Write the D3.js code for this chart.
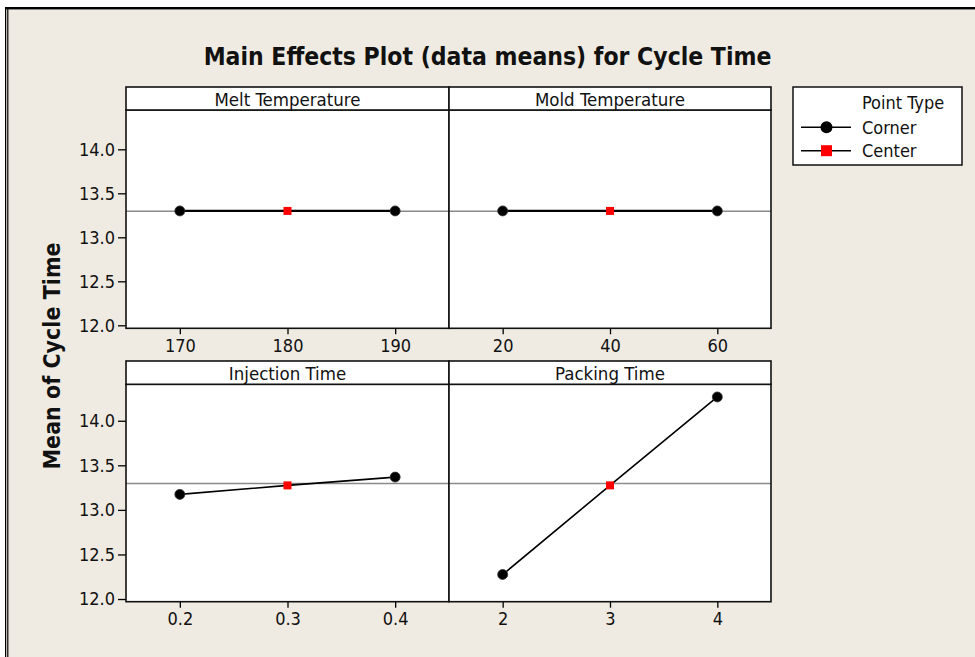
<!DOCTYPE html>
<html><head><meta charset="utf-8">
<script src="https://cdn.jsdelivr.net/npm/d3@7"></script>
<style>
html,body{margin:0;padding:0;background:#fff;}
svg{display:block;}
text{font-family:"DejaVu Sans Condensed","DejaVu Sans",sans-serif;fill:#111;}
</style></head>
<body>
<svg id="chart" width="975" height="657"></svg>
<script>
// ---- data ----
const title = "Main Effects Plot (data means) for Cycle Time";
const yLabel = "Mean of Cycle Time";
const factors = ["Melt Temperature", "Mold Temperature", "Injection Time", "Packing Time"];
const meltLevels = [170, 180, 190];
const meltMeans = [13.30, 13.30, 13.30];
const moldLevels = [20, 40, 60];
const moldMeans = [13.30, 13.30, 13.30];
const injLevels = [0.2, 0.3, 0.4];
const injMeans = [13.174, 13.275, 13.368];
const packLevels = [2, 3, 4];
const packMeans = [12.275, 13.275, 14.267];
const pointTypes = ["Corner", "Center", "Corner"];
const grandMean = 13.296;
const yTicks = [12.0, 12.5, 13.0, 13.5, 14.0];
const meltTicks = [170, 180, 190];
const moldTicks = [20, 40, 60];
const injTicks = [0.2, 0.3, 0.4];
const packTicks = [2, 3, 4];
const legendTitle = "Point Type";
const legendItems = ["Corner", "Center"];

// ---- layout ----
const svg = d3.select("#chart");
const bg = "#EFEBE2";
svg.append("rect").attr("width", 975).attr("height", 657).attr("fill", "#fff");
svg.append("rect").attr("x", 5).attr("y", 7).attr("width", 970).attr("height", 650).attr("fill", bg);
// outer border
svg.append("rect").attr("x", 5).attr("y", 7).attr("width", 970).attr("height", 2).attr("fill", "#000");
svg.append("rect").attr("x", 5).attr("y", 9).attr("width", 970).attr("height", 1).attr("fill", "#888");
svg.append("rect").attr("x", 5).attr("y", 7).attr("width", 1.2).attr("height", 650).attr("fill", "#000");
svg.append("rect").attr("x", 7.2).attr("y", 7).attr("width", 1.2).attr("height", 650).attr("fill", "#000");

svg.append("text").attr("x", 487.5).attr("y", 65).attr("text-anchor", "middle")
  .style("font-size", "24.5px").style("font-weight", "bold").text(title);

svg.append("text").attr("transform", "translate(60,356) rotate(-90)").attr("text-anchor", "middle")
  .style("font-size", "23px").style("font-weight", "bold").text(yLabel);

const cols = [[126, 449], [449, 771]];
const rows = [
  {head: 87, top: 110, bottom: 328.3, dom: [11.966, 14.447]},
  {head: 361, top: 384.3, bottom: 601.7, dom: [11.97, 14.409]}
];
const panelDefs = [
  {name: factors[0], levels: meltLevels, means: meltMeans, ticks: meltTicks, dom: [165, 195], fmt: d3.format("d"), r: 0, c: 0},
  {name: factors[1], levels: moldLevels, means: moldMeans, ticks: moldTicks, dom: [10, 70], fmt: d3.format("d"), r: 0, c: 1},
  {name: factors[2], levels: injLevels, means: injMeans, ticks: injTicks, dom: [0.15, 0.45], fmt: d3.format(".1f"), r: 1, c: 0},
  {name: factors[3], levels: packLevels, means: packMeans, ticks: packTicks, dom: [1.5, 4.5], fmt: d3.format("d"), r: 1, c: 1}
];

// y axes per row
rows.forEach(row => {
  const y = d3.scaleLinear().domain(row.dom).range([row.bottom, row.top]);
  row.y = y;
  const ax = svg.append("g").attr("transform", `translate(${cols[0][0]},0)`)
    .call(d3.axisLeft(y).tickValues(yTicks).tickFormat(d3.format(".1f")).tickSize(8).tickPadding(3));
  ax.select(".domain").remove();
  ax.selectAll(".tick line").attr("stroke", "#000").attr("stroke-width", 1.3);
  ax.selectAll(".tick text").style("font-size", "18px").attr("fill", "#111").style("font-family", null);
});

panelDefs.forEach(p => {
  const row = rows[p.r];
  const [x0, x1] = cols[p.c];
  const x = d3.scaleLinear().domain(p.dom).range([x0, x1]);
  const y = row.y;
  const g = svg.append("g");
  // plot area
  g.append("rect").attr("x", x0).attr("y", row.top).attr("width", x1 - x0).attr("height", row.bottom - row.top)
    .attr("fill", "#fff");
  // grand mean reference
  g.append("line").attr("x1", x0).attr("x2", x1).attr("y1", y(grandMean)).attr("y2", y(grandMean))
    .attr("stroke", "#8a8a8a").attr("stroke-width", 1.5);
  // x axis
  const ax = g.append("g").attr("transform", `translate(0,${row.bottom})`)
    .call(d3.axisBottom(x).tickValues(p.ticks).tickFormat(p.fmt).tickSize(6).tickPadding(5));
  ax.select(".domain").remove();
  ax.selectAll(".tick line").attr("stroke", "#000").attr("stroke-width", 1.3);
  ax.selectAll(".tick text").style("font-size", "18px").attr("fill", "#111").style("font-family", null);
  // data line
  const pts = p.levels.map((l, i) => ({x: l, y: p.means[i], t: pointTypes[i]}));
  g.append("path").datum(pts)
    .attr("d", d3.line().x(d => x(d.x)).y(d => y(d.y)))
    .attr("fill", "none").attr("stroke", "#000").attr("stroke-width", p.r === 0 ? 2.2 : 1.6);
  g.selectAll("circle").data(pts.filter(d => d.t === "Corner")).join("circle")
    .attr("cx", d => x(d.x)).attr("cy", d => y(d.y)).attr("r", 5)
    .attr("fill", "#000").attr("stroke", "#333").attr("stroke-width", 0.8);
  g.selectAll("rect.center").data(pts.filter(d => d.t === "Center")).join("rect").attr("class", "center")
    .attr("x", d => x(d.x) - 4).attr("y", d => y(d.y) - 4).attr("width", 8).attr("height", 8)
    .attr("fill", "#ff0000");
  // plot border
  g.append("rect").attr("x", x0).attr("y", row.top).attr("width", x1 - x0).attr("height", row.bottom - row.top)
    .attr("fill", "none").attr("stroke", "#111").attr("stroke-width", 1.6);
  // header strip
  g.append("rect").attr("x", x0).attr("y", row.head).attr("width", x1 - x0).attr("height", row.top - row.head)
    .attr("fill", "#fff").attr("stroke", "#111").attr("stroke-width", 1.6);
  g.append("text").attr("x", (x0 + x1) / 2).attr("y", row.top - 4.5).attr("text-anchor", "middle")
    .style("font-size", "18.5px").text(p.name);
});

// legend
const lg = svg.append("g");
lg.append("rect").attr("x", 793).attr("y", 87).attr("width", 169).attr("height", 78)
  .attr("fill", "#fff").attr("stroke", "#111").attr("stroke-width", 1.5);
lg.append("text").attr("x", 862).attr("y", 109).style("font-size", "18px").text(legendTitle);
legendItems.forEach((name, i) => {
  const cy = 127.3 + i * 23.4;
  lg.append("line").attr("x1", 801).attr("x2", 851).attr("y1", cy).attr("y2", cy)
    .attr("stroke", "#000").attr("stroke-width", 1.5);
  if (name === "Corner") {
    lg.append("circle").attr("cx", 826.5).attr("cy", cy).attr("r", 6).attr("fill", "#000");
  } else {
    lg.append("rect").attr("x", 821).attr("y", cy - 5.5).attr("width", 11).attr("height", 11).attr("fill", "#ff0000");
  }
  lg.append("text").attr("x", 862).attr("y", cy + 6.5).style("font-size", "18px").text(name);
});
</script>
</body></html>
